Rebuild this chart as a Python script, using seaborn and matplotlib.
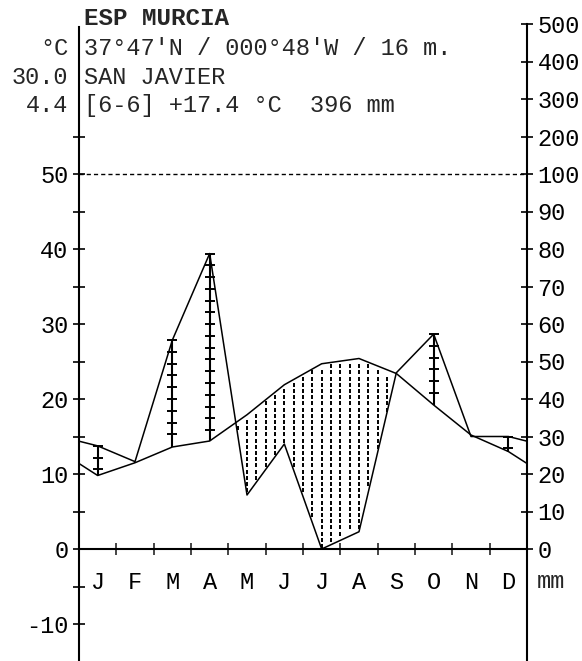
import numpy as np
import pandas as pd
import matplotlib
matplotlib.use("Agg")
import matplotlib.pyplot as plt
from matplotlib.ticker import FixedLocator, FixedFormatter, NullFormatter
import seaborn as sns

# ---------------- data ----------------
months = ['J', 'F', 'M', 'A', 'M', 'J', 'J', 'A', 'S', 'O', 'N', 'D']
temp_c = [9.8, 11.5, 13.6, 14.4, 17.9, 21.9, 24.7, 25.4, 23.4, 19.2, 15.2, 13.0]
precip_mm = [27.5, 23.3, 55.7, 78.8, 14.4, 28.0, 0.0, 4.6, 47.0, 57.3, 30.0, 30.0]

left_ticks = [-10, 0, 10, 20, 30, 40, 50]
right_tick_mm = [0, 10, 20, 30, 40, 50, 60, 70, 80, 90, 100, 200, 300, 400, 500]

title = "ESP MURCIA"
header_right = ["37°47'N / 000°48'W / 16 m.", "SAN JAVIER", "[6-6] +17.4 °C  396 mm"]
header_left = ["°C", "30.0", "4.4"]

# ---------------- style ----------------
sns.set_style("white")
plt.rcParams['font.family'] = ['Liberation Mono', 'DejaVu Sans Mono']
FS = 17.0

W, H = 582, 661
fig = plt.figure(figsize=(W / 100, H / 100), dpi=100)
ax = fig.add_axes([79 / W, 0, 448 / W, 1])
ymin, ymax = (549 - H) / 7.5, 549 / 7.5
ax.set_xlim(0, 12)
ax.set_ylim(ymin, ymax)


def p2t(p):
    p = np.asarray(p, dtype=float)
    return np.where(p <= 100, p / 2.0, 50 + (p - 100) / 20.0)


t = np.array(temp_c)
pt = p2t(precip_mm)
xc = np.arange(12) + 0.5
# curves closed at both axes with the Dec/Jan mean
xe = np.concatenate([[0], xc, [12]])
te = np.concatenate([[(t[0] + t[-1]) / 2], t, [(t[0] + t[-1]) / 2]])
pe = np.concatenate([[(pt[0] + pt[-1]) / 2], pt, [(pt[0] + pt[-1]) / 2]])

df = pd.DataFrame({'x': np.concatenate([xe, xe]),
                   'y': np.concatenate([te, pe]),
                   'var': ['T'] * len(xe) + ['P'] * len(xe)})
sns.lineplot(data=df, x='x', y='y', units='var', estimator=None, sort=False,
             color='black', lw=1.1, ax=ax, legend=False)

# arid period: dotted pattern
xs = np.arange(0, 12.01, 0.25)
ys = np.arange(0.4, 50, 0.827)
XX, YY = np.meshgrid(xs, ys)
tt = np.interp(XX, xe, te)
pp = np.interp(XX, xe, pe)
mask = (YY > pp + 0.35) & (YY < tt - 0.35)
ax.plot(XX[mask], YY[mask], ls='none', marker='|', ms=2.3, mew=1.4, color='black')

# humid period: vertical bars with cross ticks
for i in range(12):
    if pt[i] > t[i]:
        ax.vlines(xc[i], t[i], pt[i], color='black', lw=1.5)
        ticks = np.arange(pt[i], t[i] + 0.3, -1.57)
        ax.plot(np.full(len(ticks), xc[i]), ticks, ls='none', marker='_',
                ms=7, mew=1.4, color='black')

# 100 mm / 50 °C dashed line
ax.axhline(50, color='black', lw=1.0, ls=(0, (3, 2.2)))

# ---------- axes ----------
for s in ['top', 'right']:
    ax.spines[s].set_visible(False)
ax.spines['left'].set_bounds(ymin, 69.6)
ax.spines['left'].set_linewidth(1.5)
ax.spines['bottom'].set_position(('data', 0))
ax.spines['bottom'].set_bounds(0, 12)
ax.spines['bottom'].set_linewidth(1.5)
for s in ax.spines.values():
    s.set_color('black')

ax.yaxis.set_major_locator(FixedLocator(left_ticks))
ax.yaxis.set_major_formatter(FixedFormatter([str(v) for v in left_ticks]))
ax.yaxis.set_minor_locator(FixedLocator([v + 5 for v in left_ticks]))
ax.tick_params(axis='y', which='both', direction='inout', length=8.6, width=1.2,
               pad=3.2, labelsize=FS, colors='black', left=True)

ax.xaxis.set_major_locator(FixedLocator(list(range(13))))
ax.xaxis.set_major_formatter(NullFormatter())
ax.xaxis.set_minor_locator(FixedLocator(list(xc)))
ax.xaxis.set_minor_formatter(FixedFormatter(months))
ax.tick_params(axis='x', which='major', direction='inout', length=8.6, width=1.2,
               bottom=True)
ax.tick_params(axis='x', which='minor', length=0, pad=16, labelsize=FS,
               colors='black', bottom=True)
ax.set_xlabel('')
ax.set_ylabel('')

ax2 = ax.twinx()
ax2.set_ylim(ymin, ymax)
for s in ['top', 'left', 'bottom']:
    ax2.spines[s].set_visible(False)
ax2.spines['right'].set_bounds(ymin, 70)
ax2.spines['right'].set_linewidth(1.5)
ax2.spines['right'].set_color('black')
ax2.yaxis.set_major_locator(FixedLocator(list(p2t(right_tick_mm))))
ax2.yaxis.set_major_formatter(FixedFormatter([str(v) for v in right_tick_mm]))
ax2.tick_params(axis='y', direction='inout', length=8.6, width=1.2, pad=3.2,
                labelsize=FS, colors='black', right=True)
ax2.grid(False)
ax.grid(False)

# "mm" label below right axis
ax2.text(1.0 + 10 / 448, -39 / 7.5, 'mm', transform=ax2.get_yaxis_transform(),
         fontsize=FS, ha='left', va='baseline')

# ---------- header ----------
fig.text(84 / W, 1 - 25 / H, title, fontsize=FS + 0.5, fontweight='bold',
         ha='left', va='baseline')
for k, (lt, rt) in enumerate(zip(header_left, header_right)):
    yb = 1 - [55, 84.5, 112][k] / H
    fig.text(68 / W, yb, lt, fontsize=FS, ha='right', va='baseline')
    fig.text(84 / W, yb, rt, fontsize=FS, ha='left', va='baseline')

fig.savefig('out.png', dpi=100)
